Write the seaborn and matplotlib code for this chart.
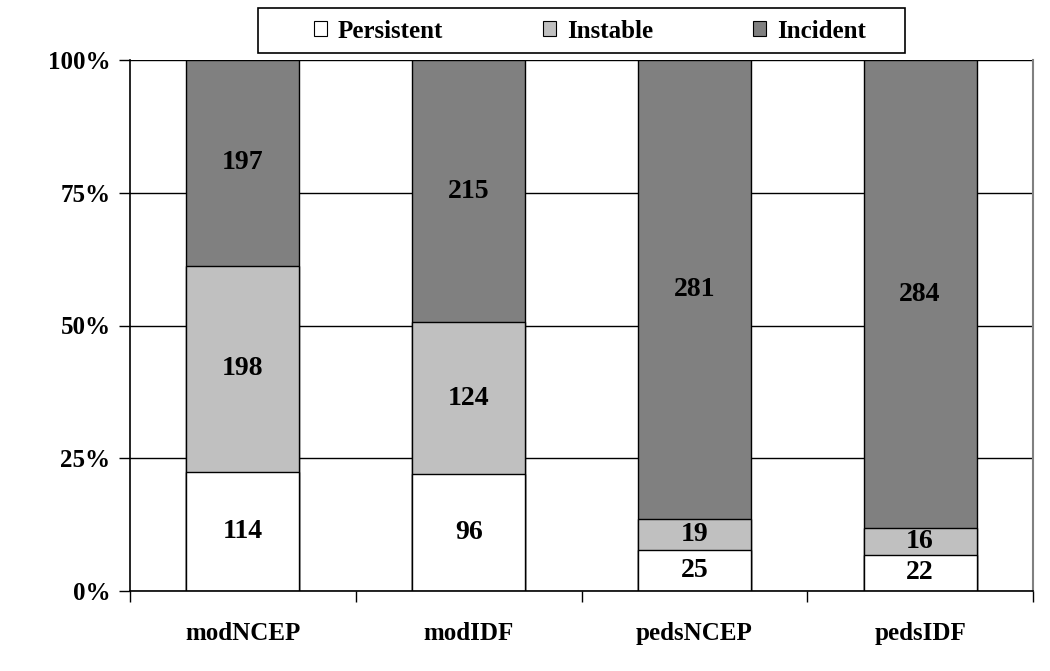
import matplotlib
matplotlib.use("Agg")
import matplotlib.pyplot as plt
import numpy as np
import pandas as pd
import seaborn as sns
from matplotlib.patches import Patch, Rectangle
from matplotlib.ticker import FixedLocator, PercentFormatter

# counts per group
groups = ["modNCEP", "modIDF", "pedsNCEP", "pedsIDF"]
persistent = [114, 96, 25, 22]
instable = [198, 124, 19, 16]
incident = [197, 215, 281, 284]

series_names = ["Persistent", "Instable", "Incident"]
series_colors = ["#FFFFFF", "#C0C0C0", "#808080"]

W, H = 1050, 671


def main():
    sns.set_style("white")
    plt.rcParams["font.family"] = ["Liberation Serif", "DejaVu Serif"]
    plt.rcParams["font.weight"] = "bold"
    for key in ["text.color", "axes.labelcolor", "xtick.color", "ytick.color"]:
        plt.rcParams[key] = "black"

    counts = np.array([persistent, instable, incident], dtype=float)
    pct = counts / counts.sum(axis=0) * 100
    cum = np.cumsum(pct, axis=0)

    df = pd.DataFrame({"group": groups})
    for i, name in enumerate(series_names):
        df[name + "_top"] = cum[i]

    fig = plt.figure(figsize=(W / 100, H / 100), dpi=100)
    ax = fig.add_axes([130 / W, 1 - 591 / H, 903 / W, 531 / H])

    # gridlines behind bars
    ax.set_axisbelow(True)
    ax.yaxis.grid(True, color="black", linewidth=1.0)

    # draw the tallest stack first, smaller ones over it
    for i in reversed(range(3)):
        name = series_names[i]
        sns.barplot(data=df, x="group", y=name + "_top", color=series_colors[i],
                    saturation=1, width=0.5, edgecolor="black", linewidth=1.0,
                    ax=ax, zorder=2)

    # segment labels
    for i in range(3):
        for j in range(len(groups)):
            mid = cum[i, j] - pct[i, j] / 2
            ax.text(j, mid, str(int(counts[i, j])), ha="center", va="center",
                    fontsize=20, fontweight="bold", color="black", zorder=3)

    ax.set_xlim(-0.5, len(groups) - 0.5)
    ax.set_ylim(0, 100)
    ax.set_yticks([0, 25, 50, 75, 100])
    ax.yaxis.set_major_formatter(PercentFormatter(decimals=0))
    ax.set_xlabel("")
    ax.set_ylabel("")

    ax.tick_params(axis="y", which="major", left=True, length=8, width=1,
                   color="black", labelcolor="black", labelsize=18, pad=6)
    ax.tick_params(axis="x", which="major", bottom=False, labelcolor="black",
                   labelsize=18, pad=19)
    ax.xaxis.set_minor_locator(FixedLocator(np.arange(-0.5, len(groups), 1.0)))
    ax.tick_params(axis="x", which="minor", bottom=True, length=8, width=1,
                   color="black")
    for lab in ax.get_xticklabels() + ax.get_yticklabels():
        lab.set_fontweight("bold")

    for side in ["left", "bottom"]:
        ax.spines[side].set_color("black")
        ax.spines[side].set_linewidth(1.2)
    ax.spines["top"].set_visible(False)
    ax.spines["right"].set_color("#808080")
    ax.spines["right"].set_linewidth(1.5)

    # legend box above the plot
    fig.patches.append(Rectangle((258 / W, 1 - 53 / H), 647 / W, 45 / H,
                                 transform=fig.transFigure, facecolor="white",
                                 edgecolor="black", linewidth=1.2, zorder=5))
    handles = [Patch(facecolor=c, edgecolor="black", linewidth=0.8)
               for c in series_colors]
    leg = fig.legend(handles, series_names, loc="center",
                     bbox_to_anchor=(590 / W, 1 - 31 / H), ncol=3,
                     frameon=False, columnspacing=4.0, borderpad=0,
                     handlelength=0.52, handleheight=0.52, handletextpad=0.44,
                     prop={"size": 18, "weight": "bold"})
    leg.set_zorder(6)
    for t in leg.get_texts():
        t.set_color("black")

    fig.savefig("out.png", dpi=100)


if __name__ == "__main__":
    main()
